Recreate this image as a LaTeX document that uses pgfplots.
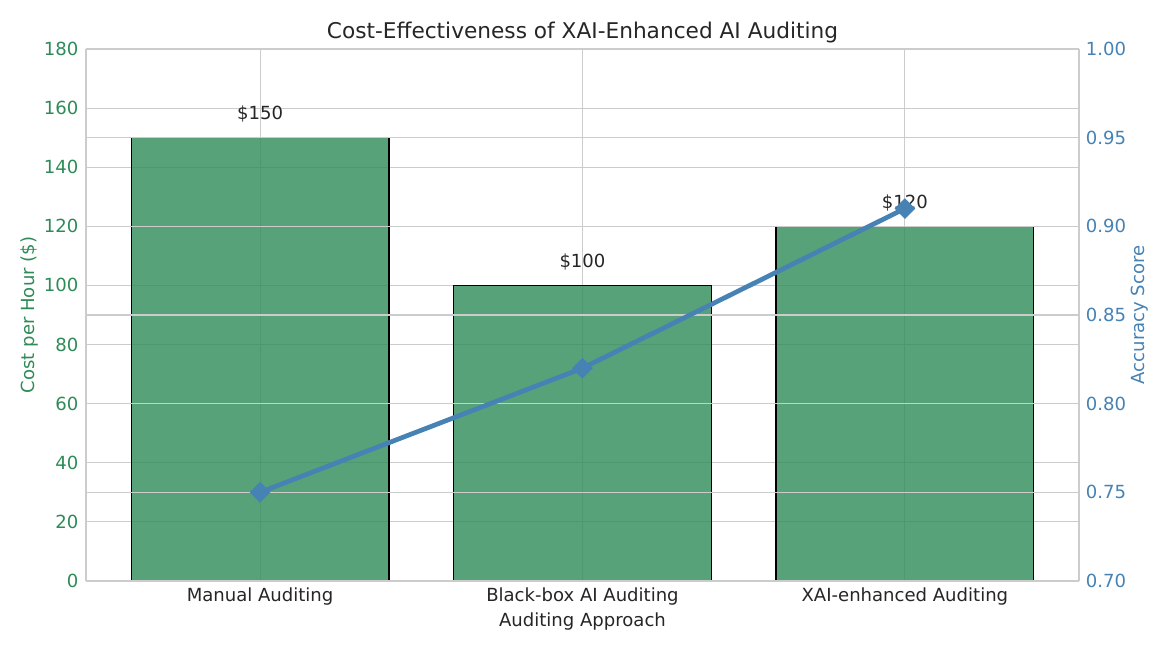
\documentclass[border=0pt]{standalone}
\usepackage{pgfplots}
\pgfplotsset{compat=1.18}
\usepackage{fontspec}
\setmainfont{DejaVu Sans}
\definecolor{barg}{HTML}{2E8B57}
\definecolor{lineb}{HTML}{4682B4}
\definecolor{txt}{HTML}{262626}
\definecolor{gridc}{HTML}{CCCCCC}
\begin{document}
\begin{tikzpicture}
\useasboundingbox (-61.9bp,-49.7bp) rectangle (780.5bp,418.3bp);
\begin{axis}[
  at={(0,0)}, anchor=south west,
  width=714.96bp, height=383.04bp, scale only axis,
  xmin=-0.54, xmax=2.54, ymin=0, ymax=180,
  xtick={0,1,2}, xticklabels={Manual Auditing, Black-box AI Auditing, XAI-enhanced Auditing},
  ytick={0,20,...,180},
  major tick length=0pt,
  axis y line*=left,
  axis x line*=bottom,
  axis line style={gridc, line width=0.9bp},
  grid=major, major grid style={gridc, line width=0.8bp},
  /pgf/number format/assume math mode=true,
  tick label style={font=\fontsize{13bp}{15bp}\selectfont},
  xticklabel style={txt, yshift=-1.5bp},
  yticklabel style={barg, xshift=-2bp},
  xlabel={Auditing Approach},
  ylabel={Cost per Hour (\$)},
  label style={font=\fontsize{13bp}{15bp}\selectfont},
  xlabel style={txt, at={(axis description cs:0.5,-0.077)}, anchor=center},
  ylabel style={barg, at={(axis description cs:-0.0565,0.5)}, anchor=center, rotate=0},
  title={Cost-Effectiveness of XAI-Enhanced AI Auditing},
  title style={txt, font=\fontsize{15.6bp}{18bp}\selectfont, at={(axis description cs:0.5,1.015)}, anchor=center},
  clip=false,
]
\addplot[ybar, bar width=0.8, fill=barg, fill opacity=0.8, draw=black, line width=0.85bp,
  point meta=explicit symbolic,
  nodes near coords, every node near coord/.style={txt, font=\fontsize{13bp}{15bp}\selectfont, anchor=south, inner sep=0pt, yshift=10.5bp, text opacity=1}]
  coordinates {(0,150) [\$150] (1,100) [\$100] (2,120) [\$120]};
\end{axis}
\begin{axis}[
  at={(0,0)}, anchor=south west,
  width=714.96bp, height=383.04bp, scale only axis,
  xmin=-0.54, xmax=2.54, ymin=0.70, ymax=1.00,
  ytick={0.70,0.75,...,1.00},
  major tick length=0pt,
  axis y line*=right,
  axis x line=none,
  axis line style={gridc, line width=0.9bp},
  ymajorgrids, major grid style={gridc, line width=0.8bp},
  /pgf/number format/assume math mode=true,
  yticklabel={\pgfmathprintnumber[fixed, fixed zerofill, precision=2]{\tick}},
  tick label style={font=\fontsize{13bp}{15bp}\selectfont},
  yticklabel style={lineb, xshift=1.5bp},
  ylabel={Accuracy Score},
  ylabel style={lineb, font=\fontsize{13bp}{15bp}\selectfont, at={(axis description cs:1.0614,0.5)}, anchor=center, rotate=0},
  clip=false,
]
\addplot[lineb, line width=3.4bp, mark=square*, mark size=5bp, mark options={rotate=45, line width=0.5bp, fill=lineb}]
  coordinates {(0,0.75) (1,0.82) (2,0.91)};
\end{axis}
\end{tikzpicture}
\end{document}
